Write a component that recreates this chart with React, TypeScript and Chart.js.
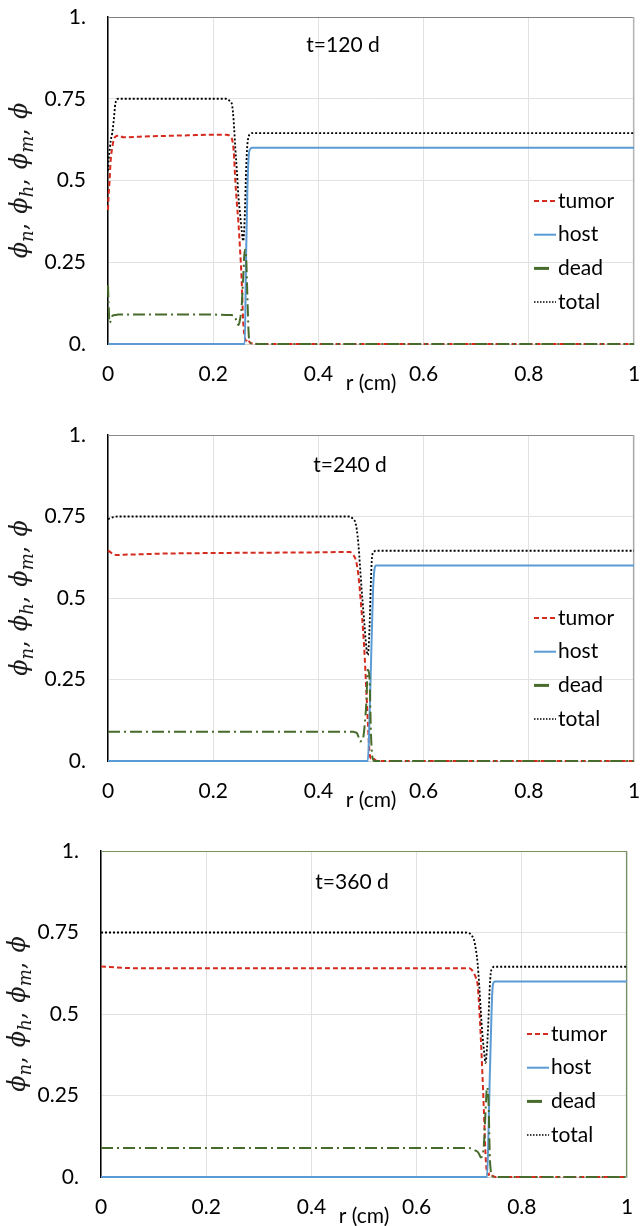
import React, { useEffect, useRef } from 'react';
import { Chart, registerables } from 'chart.js';

Chart.register(...registerables);

// ---------- tick labels / texts ----------
const xTickValues = [0, 0.2, 0.4, 0.6, 0.8, 1];
const xTickLabels = ['0', '0.2', '0.4', '0.6', '0.8', '1'];
const yTickValues = [0, 0.25, 0.5, 0.75, 1];
const yTickLabels = ['0.', '0.25', '0.5', '0.75', '1.'];
const seriesNames = ['tumor', 'host', 'dead', 'total'];
const panelTitles = ['t=120 d', 't=240 d', 't=360 d'];
const xAxisTitle = 'r (cm)';
const yTitleParts = [['ϕ', 'n'], ['ϕ', 'h'], ['ϕ', 'm'], ['ϕ', '']];

// ---------- t = 120 d ----------
const r120 = [0, 0.001, 0.003, 0.005, 0.008, 0.011, 0.014, 0.02, 0.03, 0.06, 0.1, 0.15, 0.2, 0.225, 0.232, 0.236, 0.239, 0.242, 0.245, 0.248, 0.251, 0.254, 0.257, 0.26, 0.2625, 0.265, 0.2675, 0.27, 0.274, 0.28, 0.3, 0.4, 0.5, 0.6, 0.7, 0.8, 0.9, 1];
const tumor120 = [0.41, 0.45, 0.5, 0.56, 0.6, 0.625, 0.634, 0.637, 0.632, 0.634, 0.636, 0.638, 0.64, 0.64, 0.636, 0.625, 0.59, 0.5, 0.43, 0.37, 0.29, 0.2, 0.07, 0.02, 0.01, 0.015, 0.01, 0.004, 0.002, 0.001, 0, 0, 0, 0, 0, 0, 0, 0];
const host120 = [0, 0, 0, 0, 0, 0, 0, 0, 0, 0, 0, 0, 0, 0, 0, 0, 0, 0, 0, 0, 0, 0, 0, 0, 0.27, 0.47, 0.575, 0.595, 0.6, 0.6, 0.6, 0.6, 0.6, 0.6, 0.6, 0.6, 0.6, 0.6];
const dead120 = [0.18, 0.13, 0.065, 0.07, 0.085, 0.088, 0.089, 0.09, 0.09, 0.09, 0.09, 0.09, 0.09, 0.089, 0.089, 0.088, 0.087, 0.08, 0.068, 0.058, 0.075, 0.114, 0.2, 0.288, 0.27, 0.145, 0.03, 0.005, 0.001, 0, 0, 0, 0, 0, 0, 0, 0, 0];
const total120 = [0.53, 0.56, 0.59, 0.62, 0.645, 0.685, 0.735, 0.75, 0.75, 0.75, 0.75, 0.75, 0.75, 0.75, 0.742, 0.73, 0.68, 0.6, 0.53, 0.45, 0.4, 0.35, 0.315, 0.39, 0.53, 0.61, 0.635, 0.642, 0.645, 0.645, 0.645, 0.645, 0.645, 0.645, 0.645, 0.645, 0.645, 0.645];

// ---------- t = 240 d ----------
const r240 = [0, 0.005, 0.01, 0.02, 0.03, 0.06, 0.1, 0.2, 0.3, 0.4, 0.45, 0.46, 0.466, 0.47, 0.473, 0.476, 0.479, 0.482, 0.485, 0.488, 0.491, 0.494, 0.497, 0.5, 0.502, 0.504, 0.506, 0.509, 0.512, 0.52, 0.55, 0.6, 0.7, 0.8, 0.9, 1];
const tumor240 = [0.646, 0.64, 0.634, 0.632, 0.633, 0.634, 0.636, 0.638, 0.639, 0.64, 0.641, 0.641, 0.633, 0.622, 0.603, 0.57, 0.521, 0.46, 0.4, 0.32, 0.22, 0.12, 0.03, 0.008, 0.008, 0.01, 0.006, 0.002, 0, 0, 0, 0, 0, 0, 0, 0];
const host240 = [0, 0, 0, 0, 0, 0, 0, 0, 0, 0, 0, 0, 0, 0, 0, 0, 0, 0, 0, 0, 0, 0, 0.12, 0.3, 0.42, 0.53, 0.58, 0.6, 0.6, 0.6, 0.6, 0.6, 0.6, 0.6, 0.6, 0.6];
const dead240 = [0.09, 0.09, 0.09, 0.09, 0.09, 0.09, 0.09, 0.09, 0.09, 0.09, 0.09, 0.09, 0.09, 0.088, 0.086, 0.075, 0.06, 0.062, 0.07, 0.11, 0.175, 0.28, 0.26, 0.08, 0.02, 0.005, 0, 0, 0, 0, 0, 0, 0, 0, 0, 0];
const total240 = [0.742, 0.745, 0.748, 0.75, 0.75, 0.75, 0.75, 0.75, 0.75, 0.75, 0.75, 0.75, 0.742, 0.733, 0.71, 0.665, 0.6, 0.53, 0.47, 0.41, 0.35, 0.325, 0.4, 0.56, 0.625, 0.64, 0.643, 0.645, 0.645, 0.645, 0.645, 0.645, 0.645, 0.645, 0.645, 0.645];

// ---------- t = 360 d ----------
const r360 = [0, 0.05, 0.1, 0.2, 0.3, 0.4, 0.5, 0.6, 0.69, 0.7, 0.705, 0.709, 0.713, 0.716, 0.719, 0.722, 0.725, 0.728, 0.731, 0.734, 0.737, 0.739, 0.741, 0.744, 0.747, 0.75, 0.76, 0.8, 0.9, 1];
const tumor360 = [0.646, 0.641, 0.64, 0.64, 0.64, 0.64, 0.64, 0.64, 0.64, 0.64, 0.635, 0.625, 0.61, 0.59, 0.522, 0.43, 0.32, 0.2, 0.07, 0.012, 0.006, 0.012, 0.01, 0.004, 0.002, 0, 0, 0, 0, 0];
const host360 = [0, 0, 0, 0, 0, 0, 0, 0, 0, 0, 0, 0, 0, 0, 0, 0, 0, 0, 0, 0, 0.16, 0.3, 0.42, 0.57, 0.598, 0.6, 0.6, 0.6, 0.6, 0.6];
const dead360 = [0.089, 0.089, 0.089, 0.089, 0.089, 0.089, 0.089, 0.089, 0.089, 0.089, 0.087, 0.084, 0.08, 0.077, 0.07, 0.06, 0.065, 0.1, 0.2, 0.275, 0.22, 0.07, 0.02, 0.003, 0, 0, 0, 0, 0, 0];
const total360 = [0.75, 0.75, 0.75, 0.75, 0.75, 0.75, 0.75, 0.75, 0.75, 0.748, 0.74, 0.728, 0.695, 0.655, 0.59, 0.51, 0.44, 0.39, 0.35, 0.4, 0.5, 0.58, 0.625, 0.64, 0.645, 0.645, 0.645, 0.645, 0.645, 0.645];

const panelData = [
  { r: r120, series: [tumor120, host120, dead120, total120] },
  { r: r240, series: [tumor240, host240, dead240, total240] },
  { r: r360, series: [tumor360, host360, dead360, total360] },
];

// ---------- styles / layout ----------
const FONT = 'Lato';
const FS = 21;
const seriesStyles = [
  { color: '#d42b1e', dash: [5, 3], width: 2, order: 4 },
  { color: '#5b9bd5', dash: [], width: 2, order: 3 },
  { color: '#476b2b', dash: [12, 4, 2, 4], width: 2, order: 2 },
  { color: '#000000', dash: [2, 2], width: 1.8, order: 1 },
];

const panelLayouts = [
  { top: 0, height: 410, left: 108, right: 634, areaTop: 17, areaBottom: 344, titleX: 343, titleDy: 28, yTitleX: 20, frameTop: '#7f7f7f', frameRight: '#b5b5b5' },
  { top: 410, height: 410, left: 108, right: 634, areaTop: 25, areaBottom: 351, titleX: 350, titleDy: 30, yTitleX: 20, frameTop: '#8a8a8a', frameRight: '#a8a8a8' },
  { top: 820, height: 406, left: 101, right: 627, areaTop: 31, areaBottom: 357, titleX: 352, titleDy: 31, yTitleX: 18, frameTop: '#76935f', frameRight: '#76935f' },
];

function Panel({ idx }: { idx: number }) {
  const ref = useRef<HTMLCanvasElement | null>(null);
  const L = panelLayouts[idx];
  useEffect(() => {
    const canvas = ref.current;
    if (!canvas) return;
    const pd = panelData[idx];
    const datasets = seriesNames.map((name, si) => ({
      label: name,
      data: pd.r.map((x, i) => ({ x, y: pd.series[si][i] })),
      borderColor: seriesStyles[si].color,
      backgroundColor: seriesStyles[si].color,
      borderDash: seriesStyles[si].dash,
      borderWidth: seriesStyles[si].width,
      pointRadius: 0,
      fill: false,
      tension: 0,
      cubicInterpolationMode: 'monotone' as const,
      order: seriesStyles[si].order,
      clip: 4,
    }));

    const overlay = {
      id: 'overlay' + idx,
      beforeDatasetsDraw(chart: any) {
        const { ctx, chartArea: a } = chart;
        ctx.save();
        ctx.lineWidth = 1.2;
        ctx.strokeStyle = L.frameTop;
        ctx.beginPath();
        ctx.moveTo(a.left, a.top + 0.5);
        ctx.lineTo(a.right, a.top + 0.5);
        ctx.stroke();
        ctx.strokeStyle = L.frameRight;
        ctx.beginPath();
        ctx.moveTo(a.right - 0.5, a.top);
        ctx.lineTo(a.right - 0.5, a.bottom);
        ctx.stroke();
        ctx.restore();
      },
      afterDraw(chart: any) {
        const { ctx, chartArea: a } = chart;
        ctx.save();
        // panel title
        ctx.fillStyle = '#000';
        ctx.font = `${FS}px ${FONT}`;
        ctx.textAlign = 'center';
        ctx.textBaseline = 'middle';
        ctx.fillText(panelTitles[idx], L.titleX, a.top + L.titleDy);
        // x axis title
        ctx.fillText(xAxisTitle, (a.left + a.right) / 2, a.bottom + 39);
        // legend
        const lx0 = a.right - 100;
        const lx1 = a.right - 78;
        const tx = a.right - 76;
        seriesNames.forEach((name, si) => {
          const y = a.bottom - 143 + si * 33.7;
          const st = seriesStyles[si];
          ctx.save();
          ctx.strokeStyle = st.color;
          if (si === 2) {
            ctx.lineWidth = 3;
            ctx.setLineDash([]);
            ctx.beginPath();
            ctx.moveTo(lx0, y);
            ctx.lineTo(lx0 + 15, y);
            ctx.stroke();
          } else {
            ctx.lineWidth = si === 3 ? 1.5 : 2;
            ctx.setLineDash(si === 0 ? [5, 3] : si === 3 ? [1.5, 1.5] : []);
            ctx.beginPath();
            ctx.moveTo(lx0, y);
            ctx.lineTo(lx1, y);
            ctx.stroke();
          }
          ctx.restore();
          ctx.fillStyle = '#000';
          ctx.font = `${FS}px ${FONT}`;
          ctx.textAlign = 'left';
          ctx.textBaseline = 'middle';
          ctx.fillText(name, tx, y);
        });
        // y axis title (rotated, with subscripts)
        const mainF = "italic 24px 'DejaVu Serif'";
        const subF = "italic 18px 'DejaVu Serif'";
        const comF = "24px 'DejaVu Serif'";
        const gap = 9;
        const runs: { t: string; f: string; dy: number; after: number }[] = [];
        yTitleParts.forEach((p, i) => {
          runs.push({ t: p[0], f: mainF, dy: 0, after: 0 });
          if (p[1]) runs.push({ t: p[1], f: subF, dy: 6, after: 0 });
          if (i < yTitleParts.length - 1) runs.push({ t: ',', f: comF, dy: 0, after: gap });
        });
        let total = 0;
        const widths = runs.map((r) => {
          ctx.font = r.f;
          const w = ctx.measureText(r.t).width + r.after;
          total += w;
          return w;
        });
        ctx.translate(L.yTitleX, (a.top + a.bottom) / 2);
        ctx.rotate(-Math.PI / 2);
        ctx.fillStyle = '#1a1a1a';
        ctx.textAlign = 'left';
        ctx.textBaseline = 'alphabetic';
        let x = -total / 2;
        runs.forEach((r, i) => {
          ctx.font = r.f;
          ctx.fillText(r.t, x, 7 + r.dy);
          x += widths[i];
        });
        ctx.restore();
      },
    };

    const chart = new Chart(canvas, {
      type: 'line',
      data: { datasets },
      options: {
        responsive: false,
        animation: false,
        events: [],
        layout: { padding: { left: 0, right: 641 - L.right, top: L.areaTop, bottom: 0 } },
        plugins: { legend: { display: false }, tooltip: { enabled: false }, title: { display: false } },
        scales: {
          x: {
            type: 'linear',
            min: 0,
            max: 1,
            afterBuildTicks: (s: any) => {
              s.ticks = xTickValues.map((v) => ({ value: v }));
            },
            afterFit: (s: any) => {
              s.height = L.height - L.areaBottom;
              s.paddingLeft = 0;
              s.paddingRight = 0;
            },
            ticks: {
              callback: (v: any) => xTickLabels[xTickValues.indexOf(Number(v))] ?? '',
              font: { family: FONT, size: FS },
              color: '#000',
              padding: 18,
              maxRotation: 0,
              autoSkip: false,
            },
            grid: { color: '#e2e2e2', drawTicks: false, lineWidth: 1 },
            border: { display: true, color: '#d0d0d0', width: 1 },
          },
          y: {
            type: 'linear',
            min: 0,
            max: 1,
            afterBuildTicks: (s: any) => {
              s.ticks = yTickValues.map((v) => ({ value: v }));
            },
            afterFit: (s: any) => {
              s.width = L.left;
              s.paddingTop = 0;
              s.paddingBottom = 0;
            },
            ticks: {
              callback: (v: any) => yTickLabels[yTickValues.indexOf(Number(v))] ?? '',
              font: { family: FONT, size: FS },
              color: '#000',
              padding: 22,
              autoSkip: false,
            },
            grid: { color: '#e2e2e2', drawTicks: false, lineWidth: 1 },
            border: { display: true, color: '#000', width: 1.5 },
          },
        },
      },
      plugins: [overlay],
    } as any);
    return () => chart.destroy();
  }, [idx]);

  return (
    <canvas
      ref={ref}
      width={641}
      height={L.height}
      style={{ position: 'absolute', left: 0, top: L.top, width: 641, height: L.height, display: 'block' }}
    />
  );
}

export default function App() {
  return (
    <div style={{ position: 'absolute', left: 0, top: 0, width: 641, height: 1226, background: '#fff' }}>
      <Panel idx={0} />
      <Panel idx={1} />
      <Panel idx={2} />
    </div>
  );
}
